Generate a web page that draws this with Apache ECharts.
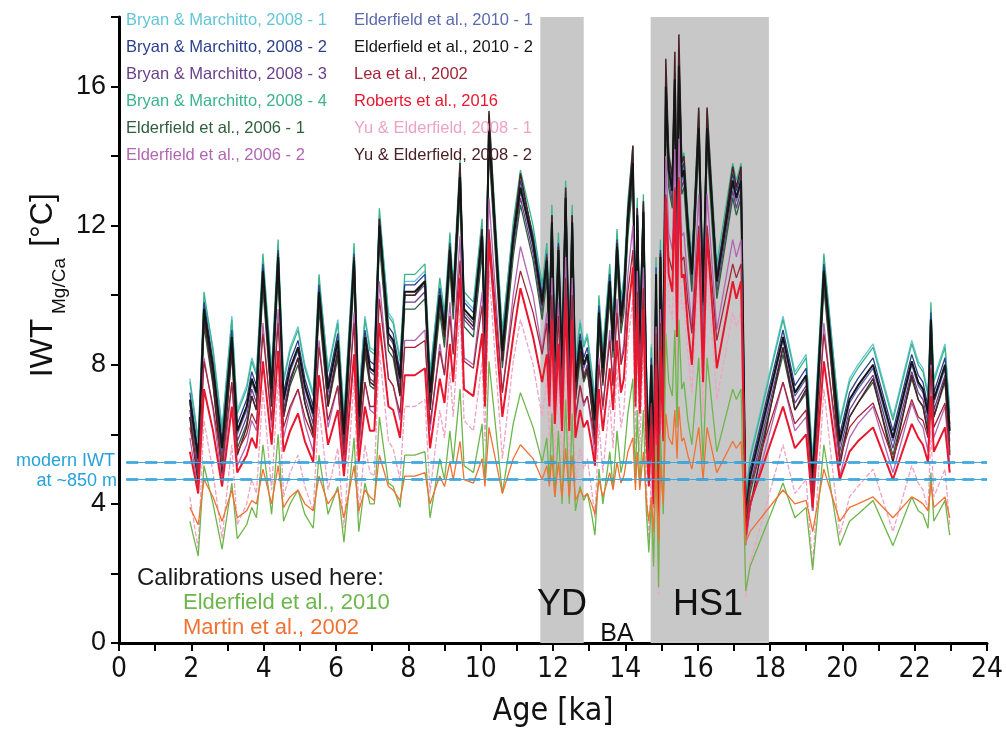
<!DOCTYPE html>
<html>
<head>
<meta charset="utf-8">
<script src="https://cdn.jsdelivr.net/npm/echarts@6/dist/echarts.min.js"></script>
<style>
  html, body { margin: 0; padding: 0; background: #fff; }
  #chart { width: 1006px; height: 730px; }
</style>
</head>
<body>
<div id="chart"></div>
<script>
// age of each sample [ka]
const ages = [1.96,2.19,2.35,2.6,2.85,3.12,3.27,3.53,3.67,3.8,
  3.98,4.22,4.4,4.55,4.73,4.95,5.14,5.37,5.53,5.78,
  6.05,6.22,6.5,6.63,6.8,6.94,7.06,7.2,7.45,7.58,
  7.77,7.9,8.18,8.46,8.6,8.87,9.0,9.15,9.24,9.43,
  9.54,9.8,10.04,10.12,10.23,10.6,10.9,11.1,11.45,11.7,
  11.83,11.9,11.97,12.05,12.15,12.25,12.35,12.45,12.53,12.62,
  12.75,12.85,12.95,13.07,13.16,13.27,13.38,13.57,13.66,13.77,
  13.88,13.96,14.07,14.21,14.28,14.33,14.4,14.5,14.58,14.65,
  14.72,14.78,14.85,14.92,14.97,15.05,15.12,15.2,15.3,15.37,
  15.43,15.48,15.56,15.62,15.73,15.84,16.03,16.15,16.26,16.53,
  16.97,17.07,17.2,17.33,17.45,18.36,18.69,19.0,19.18,19.49,
  19.93,20.2,20.43,20.85,21.4,21.92,22.1,22.23,22.37,22.45,
  22.53,22.84,22.97];

// IWT [°C] for each calibration
const bryan1 = [7.6,5.9,9.9,8.5,6.2,9.4,6.7,7.4,8.2,7.8,
  11.0,7.9,11.4,7.6,8.5,9.1,8.0,7.2,10.4,7.9,
  9.3,6.6,11.3,7.1,9.4,8.5,8.4,12.3,9.5,9.3,
  8.2,10.4,10.4,10.7,7.8,10.3,9.3,11.6,10.1,13.5,
  9.9,9.6,12.0,9.5,14.8,9.0,11.9,13.2,11.8,10.1,
  11.3,9.5,12.4,8.7,11.6,8.5,13.1,8.5,12.4,8.1,
  9.3,8.6,8.9,7.9,7.0,9.8,8.5,10.7,9.3,11.7,
  9.7,10.3,12.5,13.9,9.4,12.6,9.2,12.7,8.1,6.1,
  8.6,5.4,10.9,4.4,11.4,8.0,16.1,13.7,13.1,16.3,
  11.8,16.7,13.5,13.7,12.2,10.9,14.9,10.1,14.9,10.7,
  13.4,13.1,13.4,4.2,5.4,9.4,7.8,8.3,5.3,11.0,
  6.4,7.6,8.0,8.6,6.5,8.7,8.1,7.9,7.2,9.6,
  7.6,8.6,6.7];
const bryan2 = [7.2,5.5,9.8,8.1,5.8,9.0,6.3,7.0,7.8,7.4,
  10.9,7.5,11.3,7.2,8.1,8.7,7.6,6.8,10.3,7.5,
  8.9,6.2,11.2,6.7,9.0,8.1,8.0,12.2,9.1,8.9,
  7.8,10.3,10.3,10.6,7.4,10.2,9.2,11.5,10.0,13.6,
  9.8,9.5,11.9,9.1,14.9,8.6,11.8,13.3,11.7,10.0,
  11.2,9.1,12.3,8.3,11.5,8.1,13.0,8.1,12.3,7.7,
  8.9,8.2,8.5,7.5,6.6,9.7,8.1,10.6,8.9,11.6,
  9.6,10.2,12.4,14.0,9.0,12.5,8.8,12.6,7.7,5.7,
  8.2,5.0,10.8,4.0,11.3,7.6,16.2,13.8,13.2,16.4,
  11.7,16.8,13.6,13.8,12.1,10.8,15.0,10.0,15.0,10.6,
  13.5,13.0,13.5,3.8,5.0,9.0,7.4,7.9,4.9,10.9,
  6.0,7.2,7.6,8.2,6.1,8.3,7.7,7.5,6.8,9.5,
  7.2,8.2,6.3];
const bryan3 = [6.7,5.0,9.3,7.6,5.3,8.5,5.8,6.5,7.3,6.9,
  10.4,7.0,10.8,6.7,7.6,8.2,7.1,6.3,9.8,7.0,
  8.4,5.7,10.7,6.2,8.5,7.6,7.5,11.7,8.6,8.4,
  7.3,9.8,9.8,10.1,6.9,9.7,8.7,11.0,9.5,13.1,
  9.3,9.0,11.4,8.6,14.4,8.1,11.3,12.8,11.2,9.5,
  10.7,8.6,11.8,7.8,11.0,7.6,12.5,7.6,11.8,7.2,
  8.4,7.7,8.0,7.0,6.1,9.2,7.6,10.1,8.4,11.1,
  9.1,9.7,11.9,13.5,8.5,12.0,8.3,12.1,7.2,5.2,
  7.7,4.5,10.3,3.5,10.8,7.1,15.7,13.3,12.7,15.9,
  11.2,16.3,13.1,13.3,11.6,10.3,14.5,9.5,14.5,10.1,
  13.0,12.5,13.0,3.3,4.5,8.5,6.9,7.4,4.4,10.4,
  5.5,6.7,7.1,7.7,5.6,7.8,7.2,7.0,6.3,9.0,
  6.7,7.7,5.8];
const bryan4 = [7.5,5.8,10.1,8.4,6.1,9.3,6.6,7.3,8.1,7.7,
  11.2,7.8,11.6,7.5,8.4,9.0,7.9,7.1,10.6,7.8,
  9.2,6.5,11.5,7.0,9.3,8.4,8.3,12.5,9.4,9.2,
  8.1,10.6,10.6,10.9,7.7,10.5,9.5,11.8,10.3,13.9,
  10.1,9.8,12.2,9.4,15.2,8.9,12.1,13.6,12.0,10.3,
  11.5,9.4,12.6,8.6,11.8,8.4,13.3,8.4,12.6,8.0,
  9.2,8.5,8.8,7.8,6.9,10.0,8.4,10.9,9.2,11.9,
  9.9,10.5,12.7,14.3,9.3,12.8,9.1,12.9,8.0,6.0,
  8.5,5.3,11.1,4.3,11.6,7.9,16.2,14.1,13.5,16.4,
  12.0,16.8,13.9,14.1,12.4,11.1,15.3,10.3,15.3,10.9,
  13.8,13.3,13.8,4.1,5.3,9.3,7.7,8.2,5.2,11.2,
  6.3,7.5,7.9,8.5,6.4,8.6,8.0,7.8,7.1,9.8,
  7.5,8.5,6.6];
const elder06a = [6.5,4.8,9.1,7.4,5.1,8.3,5.6,6.3,7.1,6.7,
  10.2,6.8,10.6,6.5,7.4,8.0,6.9,6.1,9.6,6.8,
  8.2,5.5,10.5,6.0,8.3,7.4,7.3,11.5,8.4,8.2,
  7.1,9.6,9.6,9.9,6.7,9.5,8.5,10.8,9.3,12.9,
  9.1,8.8,11.2,8.4,14.2,7.9,11.1,12.6,11.0,9.3,
  10.5,8.4,11.6,7.6,10.8,7.4,12.3,7.4,11.6,7.0,
  8.2,7.5,7.8,6.8,5.9,9.0,7.4,9.9,8.2,10.9,
  8.9,9.5,11.7,13.3,8.3,11.8,8.1,11.9,7.0,5.0,
  7.5,4.3,10.1,3.3,10.6,6.9,15.5,13.1,12.5,15.7,
  11.0,16.1,12.9,13.1,11.4,10.1,14.3,9.3,14.3,9.9,
  12.8,12.3,12.8,3.1,4.3,8.3,6.7,7.2,4.2,10.2,
  5.3,6.5,6.9,7.5,5.4,7.6,7.0,6.8,6.1,8.8,
  6.5,7.5,5.6];
const elder06b = [5.9,4.4,8.2,6.7,4.6,7.5,5.1,5.7,6.4,6.1,
  9.2,6.2,9.6,5.9,6.7,7.3,6.3,5.5,8.7,6.2,
  7.4,5.0,9.5,5.5,7.5,6.7,6.6,10.4,7.6,7.4,
  6.4,8.7,8.7,9.0,6.1,8.6,7.7,9.8,8.4,11.7,
  8.2,8.0,10.1,7.6,12.8,7.2,10.0,11.4,10.0,8.4,
  9.5,7.6,10.5,6.9,9.8,6.7,11.1,6.7,10.5,6.4,
  7.4,6.8,7.1,6.2,5.4,8.2,6.7,9.0,7.4,9.9,
  8.1,8.6,10.6,12.0,7.5,10.7,7.3,10.8,6.4,4.6,
  6.8,3.9,9.1,3.0,9.6,6.3,14.0,11.8,11.3,14.2,
  10.0,14.5,11.7,11.8,10.3,9.1,12.9,8.4,12.9,9.0,
  11.6,11.1,11.6,2.8,3.9,7.5,6.1,6.5,3.8,9.2,
  4.8,5.9,6.3,6.8,4.9,6.9,6.4,6.2,5.5,8.0,
  5.9,6.8,5.1];
const elder10a = [6.9,5.2,9.5,7.8,5.5,8.7,6.0,6.7,7.5,7.1,
  10.6,7.2,11.0,6.9,7.8,8.4,7.3,6.5,10.0,7.2,
  8.6,5.9,10.9,6.4,8.7,7.8,7.7,11.9,8.8,8.6,
  7.5,10.0,10.0,10.3,7.1,9.9,8.9,11.2,9.7,13.3,
  9.5,9.2,11.6,8.8,14.6,8.3,11.5,13.0,11.4,9.7,
  10.9,8.8,12.0,8.0,11.2,7.8,12.7,7.8,12.0,7.4,
  8.6,7.9,8.2,7.2,6.3,9.4,7.8,10.3,8.6,11.3,
  9.3,9.9,12.1,13.7,8.7,12.2,8.5,12.3,7.4,5.4,
  7.9,4.7,10.5,3.7,11.0,7.3,15.9,13.5,12.9,16.1,
  11.4,16.5,13.3,13.5,11.8,10.5,14.7,9.7,14.7,10.3,
  13.2,12.7,13.2,3.5,4.7,8.7,7.1,7.6,4.6,10.6,
  5.7,6.9,7.3,7.9,5.8,8.0,7.4,7.2,6.5,9.2,
  6.9,7.9,6.0];
const elder10b = [7.0,5.3,9.6,7.9,5.6,8.8,6.1,6.8,7.6,7.2,
  10.7,7.3,11.1,7.0,7.9,8.5,7.4,6.6,10.1,7.3,
  8.7,6.0,11.0,6.5,8.8,7.9,7.8,12.0,8.9,8.7,
  7.6,10.1,10.1,10.4,7.2,10.0,9.0,11.3,9.8,13.4,
  9.6,9.3,11.7,8.9,14.7,8.4,11.6,13.1,11.5,9.8,
  11.0,8.9,12.1,8.1,11.3,7.9,12.8,7.9,12.1,7.5,
  8.7,8.0,8.3,7.3,6.4,9.5,7.9,10.4,8.7,11.4,
  9.4,10.0,12.2,13.8,8.8,12.3,8.6,12.4,7.5,5.5,
  8.0,4.8,10.6,3.8,11.1,7.4,16.0,13.6,13.0,16.2,
  11.5,16.6,13.4,13.6,11.9,10.6,14.8,9.8,14.8,10.4,
  13.3,12.8,13.3,3.6,4.8,8.8,7.2,7.7,4.7,10.7,
  5.8,7.0,7.4,8.0,5.9,8.1,7.5,7.3,6.6,9.3,
  7.0,8.0,6.1];
const lea = [6.2,4.9,8.1,6.8,5.1,7.5,5.5,6.0,6.6,6.3,
  8.9,6.4,9.2,6.2,6.8,7.3,6.5,5.9,8.5,6.4,
  7.4,5.4,9.2,5.8,7.5,6.8,6.8,9.9,7.6,7.4,
  6.6,8.5,8.5,8.7,6.3,8.4,7.7,9.4,8.3,11.0,
  8.1,7.9,9.7,7.6,11.9,7.2,9.6,10.7,9.5,8.3,
  9.2,7.6,10.0,7.0,9.4,6.8,10.5,6.8,10.0,6.5,
  7.4,6.9,7.1,6.4,5.7,8.0,6.8,8.7,7.4,9.5,
  8.0,8.4,10.1,11.3,7.5,10.1,7.4,10.2,6.5,5.0,
  6.9,4.5,8.9,3.8,9.2,6.5,12.9,11.1,10.7,13.1,
  9.5,13.4,11.0,11.1,9.8,8.9,12.0,8.3,12.0,8.7,
  10.9,10.5,10.9,3.6,4.5,7.5,6.3,6.7,4.4,8.9,
  5.3,6.2,6.5,6.9,5.3,7.0,6.5,6.4,5.9,7.9,
  6.2,6.9,5.5];
const roberts = [5.5,4.3,7.3,6.1,4.5,6.8,4.9,5.4,5.9,5.6,
  8.1,5.7,8.4,5.5,6.1,6.6,5.8,5.2,7.7,5.7,
  6.7,4.8,8.3,5.2,6.8,6.1,6.1,9.2,6.8,6.7,
  5.9,7.7,7.7,7.9,5.6,7.6,6.9,8.6,7.5,10.5,
  7.3,7.1,8.9,6.8,11.6,6.5,8.8,10.2,8.8,7.5,
  8.3,6.8,9.3,6.3,8.6,6.1,9.9,6.1,9.3,5.9,
  6.7,6.2,6.4,5.7,5.1,7.3,6.1,7.9,6.7,8.7,
  7.2,7.6,9.4,10.8,6.8,9.5,6.6,9.6,5.9,4.5,
  6.2,4.0,8.0,3.3,8.4,5.8,12.8,10.6,10.1,13.0,
  8.8,13.3,10.5,10.6,9.1,8.0,11.7,7.5,11.7,7.9,
  10.4,9.9,10.4,3.1,4.0,6.8,5.6,6.0,3.9,8.1,
  4.7,5.5,5.8,6.2,4.7,6.3,5.9,5.7,5.2,7.1,
  5.5,6.2,4.9];
const yu1 = [4.2,2.7,6.4,4.9,3.0,5.7,3.4,4.0,4.7,4.3,
  7.3,4.4,7.6,4.2,4.9,5.4,4.5,3.8,6.8,4.4,
  5.6,3.3,7.6,3.7,5.7,4.9,4.8,8.4,5.8,5.6,
  4.7,6.8,6.8,7.0,4.3,6.7,5.9,7.8,6.5,9.6,
  6.4,6.1,8.1,5.8,10.7,5.3,8.1,9.3,8.0,6.5,
  7.6,5.8,8.5,5.1,7.8,4.9,9.1,4.9,8.5,4.6,
  5.6,5.0,5.3,4.4,3.6,6.3,4.9,7.0,5.6,7.9,
  6.2,6.7,8.6,9.9,5.7,8.7,5.5,8.7,4.6,2.9,
  5.0,2.3,7.2,1.4,7.6,4.5,11.8,9.8,9.3,12.0,
  8.0,12.3,9.6,9.8,8.3,7.2,10.8,6.5,10.8,7.0,
  9.5,9.1,9.5,1.3,2.3,5.7,4.3,4.7,2.2,7.3,
  3.1,4.2,4.5,5.0,3.2,5.1,4.6,4.4,3.8,6.1,
  4.2,5.0,3.4];
const yu2 = [6.5,4.5,9.4,7.5,4.8,8.5,5.4,6.2,7.1,6.7,
  10.7,6.8,11.2,6.5,7.5,8.2,6.9,6.0,10.0,6.8,
  8.4,5.3,11.1,5.9,8.5,7.5,7.4,12.2,8.6,8.4,
  7.1,10.0,10.0,10.4,6.7,9.9,8.8,11.4,9.7,13.8,
  9.4,9.1,11.9,8.6,15.3,8.1,11.7,13.5,11.6,9.7,
  11.1,8.6,12.3,7.7,11.4,7.5,13.1,7.5,12.3,7.0,
  8.4,7.6,7.9,6.8,5.8,9.3,7.5,10.4,8.4,11.5,
  9.2,9.9,12.4,14.3,8.5,12.5,8.3,12.7,7.0,4.7,
  7.6,3.9,10.6,3.2,11.2,6.9,16.8,14.0,13.4,17.0,
  11.6,17.5,13.8,14.0,12.1,10.6,15.4,9.7,15.4,10.4,
  13.7,13.1,13.7,3.0,3.9,8.5,6.7,7.3,3.8,10.7,
  5.1,6.5,6.9,7.6,5.2,7.7,7.0,6.8,6.0,9.1,
  6.5,7.6,5.4];
// the two calibrations used in the study
const elder10used = [3.5,2.5,5.1,4.0,2.7,4.6,3.0,3.4,3.9,3.6,
  5.7,3.7,6.0,3.5,4.0,4.4,3.7,3.3,5.4,3.7,
  4.5,2.9,5.9,3.2,4.6,4.0,4.0,6.5,4.6,4.5,
  3.9,5.4,5.4,5.5,3.6,5.3,4.7,6.1,5.2,7.3,
  5.1,4.9,6.3,4.6,8.1,4.3,6.3,7.2,6.2,5.2,
  5.9,4.6,6.6,4.2,6.1,4.0,7.0,4.0,6.6,3.8,
  4.5,4.1,4.3,3.7,3.1,5.0,4.0,5.5,4.5,6.1,
  4.9,5.3,6.6,7.6,4.6,6.7,4.5,6.7,3.8,2.6,
  4.1,2.2,5.7,1.6,6.0,3.7,8.9,7.5,7.1,9.0,
  6.2,9.3,7.3,7.5,6.4,5.7,8.2,5.2,8.2,5.5,
  7.3,7.0,7.3,1.5,2.2,4.6,3.6,3.9,2.1,5.7,
  2.8,3.5,3.7,4.1,2.8,4.2,3.8,3.7,3.3,4.9,
  3.5,4.1,3.1];
const martin = [3.9,3.4,4.7,4.2,3.5,4.4,3.6,3.8,4.1,4.0,
  5.0,4.0,5.1,3.9,4.2,4.4,4.0,3.8,4.8,4.0,
  4.4,3.6,5.1,3.8,4.4,4.2,4.1,5.4,4.5,4.4,
  4.1,4.8,4.8,4.9,4.0,4.8,4.5,5.2,4.7,5.8,
  4.7,4.6,5.3,4.5,6.2,4.3,5.3,5.7,5.3,4.7,
  5.1,4.5,5.4,4.2,5.2,4.2,5.6,4.2,5.4,4.1,
  4.4,4.2,4.3,4.0,3.7,4.7,4.2,4.9,4.4,5.2,
  4.6,4.8,5.5,5.9,4.4,5.5,4.4,5.5,4.1,3.5,
  4.2,3.2,5.0,2.9,5.1,4.0,6.6,5.9,5.7,6.7,
  5.3,6.8,5.8,5.9,5.4,5.0,6.2,4.7,6.2,4.9,
  5.8,5.6,5.8,2.9,3.2,4.4,4.0,4.1,3.2,5.0,
  3.5,3.9,4.0,4.2,3.6,4.2,4.1,4.0,3.8,4.6,
  3.9,4.2,3.6];

// modern intermediate water temperature at ~850 m
const modernIWT = [5.2, 4.7];
// YD and HS1 intervals [ka]
const ydBand = [11.65, 12.85];
const hs1Band = [14.7, 17.97];

const xTicks = [0, 24];
const yTicks = [0, 18];

const narrow = "'Liberation Sans Narrow', 'DejaVu Sans Condensed', 'Liberation Sans', sans-serif";

const myChart = echarts.init(document.getElementById("chart"));

const pairs = (ys) => ages.map((a, i) => [a, ys[i]]);

// name, values, colour, width, dashed
const calib = [
  ["Bryan & Marchitto, 2008 - 1", bryan1, "#63c5d6", 1.3],
  ["Bryan & Marchitto, 2008 - 4", bryan4, "#3bb48c", 1.3],
  ["Bryan & Marchitto, 2008 - 2", bryan2, "#2b3f8f", 1.3],
  ["Elderfield et al., 2010 - 1", elder10a, "#5b69ad", 1.3],
  ["Bryan & Marchitto, 2008 - 3", bryan3, "#6b3f8c", 1.3],
  ["Elderfield et al., 2006 - 1", elder06a, "#2e5e3c", 1.3],
  ["Yu & Elderfield, 2008 - 2", yu2, "#4a2226", 1.5],
  ["Elderfield et al., 2010 - 2", elder10b, "#151515", 2],
  ["Elderfield et al., 2006 - 2", elder06b, "#b266b2", 1.3],
  ["Lea et al., 2002", lea, "#a2263a", 1.3],
  ["Yu & Elderfield, 2008 - 1", yu1, "#eea3c3", 1.3, true],
  ["Roberts et al., 2016", roberts, "#e8172e", 2],
  ["Elderfield et al., 2010", elder10used, "#6db64b", 1.3],
  ["Martin et al., 2002", martin, "#f07232", 1.3],
];

const series = calib.map(([name, ys, color, width, dashed]) => ({
  name: name,
  type: "line",
  data: pairs(ys),
  symbol: "none",
  lineStyle: { color: color, width: width, type: dashed ? [5, 2] : "solid" },
  itemStyle: { color: color },
  z: 3,
}));

// grey intervals behind everything
series[0].markArea = {
  silent: true,
  itemStyle: { color: "#c8c8c8" },
  data: [
    [{ xAxis: ydBand[0] }, { xAxis: ydBand[1] }],
    [{ xAxis: hs1Band[0] }, { xAxis: hs1Band[1] }],
  ],
};

// modern IWT lines
series[series.length - 1].markLine = {
  silent: true,
  symbol: "none",
  label: { show: false },
  lineStyle: { color: "#1d9ad8", width: 2.5, type: [12, 7] },
  data: [
    [{ coord: [0.2, modernIWT[0]] }, { coord: [24, modernIWT[0]] }],
    [{ coord: [0.2, modernIWT[1]] }, { coord: [24, modernIWT[1]] }],
  ],
};
series.push({
  name: "modern thin",
  type: "line",
  data: [],
  markLine: {
    silent: true,
    symbol: "none",
    label: { show: false },
    lineStyle: { color: "#45a8dc", width: 1, type: "solid" },
    data: [
      [{ coord: [0.2, modernIWT[0]] }, { coord: [24, modernIWT[0]] }],
      [{ coord: [0.2, modernIWT[1]] }, { coord: [24, modernIWT[1]] }],
    ],
  },
});

const legendText = (name, color) => ({ name: name, textStyle: { color: color } });
const legendStyle = {
  orient: "vertical",
  icon: "none",
  itemWidth: 0,
  itemHeight: 0,
  itemGap: 7,
  padding: 0,
  selectedMode: false,
  textStyle: { fontFamily: "Liberation Sans", fontSize: 16.5, lineHeight: 20 },
};

myChart.setOption({
  animation: false,
  grid: { left: 119, right: 19, top: 17, bottom: 87 },
  legend: [
    Object.assign({}, legendStyle, {
      left: 121,
      top: 10,
      data: [
        legendText("Bryan & Marchitto, 2008 - 1", "#63c5d6"),
        legendText("Bryan & Marchitto, 2008 - 2", "#2b3f8f"),
        legendText("Bryan & Marchitto, 2008 - 3", "#6b3f8c"),
        legendText("Bryan & Marchitto, 2008 - 4", "#3bb48c"),
        legendText("Elderfield et al., 2006 - 1", "#2e5e3c"),
        legendText("Elderfield et al., 2006 - 2", "#b266b2"),
      ],
    }),
    Object.assign({}, legendStyle, {
      left: 349,
      top: 10,
      data: [
        legendText("Elderfield et al., 2010 - 1", "#5b69ad"),
        legendText("Elderfield et al., 2010 - 2", "#151515"),
        legendText("Lea et al., 2002", "#a2263a"),
        legendText("Roberts et al., 2016", "#e8172e"),
        legendText("Yu & Elderfield, 2008 - 1", "#eea3c3"),
        legendText("Yu & Elderfield, 2008 - 2", "#4a2226"),
      ],
    }),
  ],
  xAxis: {
    type: "value",
    min: xTicks[0],
    max: xTicks[1],
    interval: 1,
    splitLine: { show: false },
    axisLine: { lineStyle: { color: "#000", width: 3 } },
    axisTick: { length: 8, lineStyle: { color: "#000", width: 2 } },
    axisLabel: {
      margin: 13,
      color: "#111",
      fontSize: 28,
      fontFamily: narrow,
      formatter: (v) => (v % 2 === 0 ? String(v) : ""),
    },
  },
  yAxis: {
    type: "value",
    min: yTicks[0],
    max: yTicks[1],
    interval: 2,
    splitLine: { show: false },
    axisLine: { lineStyle: { color: "#000", width: 3 } },
    axisTick: { length: 8, lineStyle: { color: "#000", width: 2 } },
    axisLabel: {
      margin: 13,
      color: "#111",
      fontSize: 27,
      fontFamily: "Liberation Sans",
      formatter: (v) => (v % 4 === 0 ? String(v) : ""),
    },
  },
  graphic: [
    // y axis title
    { type: "text", x: 43, y: 348, rotation: Math.PI / 2,
      style: { text: "IWT", font: "32px 'Liberation Sans'", fill: "#111", align: "center", verticalAlign: "middle" } },
    { type: "text", x: 60, y: 286, rotation: Math.PI / 2,
      style: { text: "Mg/Ca", font: "19px 'Liberation Sans'", fill: "#111", align: "center", verticalAlign: "middle" } },
    { type: "text", x: 43, y: 220, rotation: Math.PI / 2,
      style: { text: "[°C]", font: "32px 'Liberation Sans'", fill: "#111", align: "center", verticalAlign: "middle" } },
    // x axis title
    { type: "text", x: 553, y: 712,
      style: { text: "Age [ka]", font: "32px " + narrow, fill: "#111", align: "center", verticalAlign: "middle" } },
    // modern IWT note
    { type: "text", x: 115, y: 461,
      style: { text: "modern IWT", font: "18px 'Liberation Sans'", fill: "#27a2da", align: "right", verticalAlign: "middle" } },
    { type: "text", x: 117, y: 481,
      style: { text: "at ~850 m", font: "18px 'Liberation Sans'", fill: "#27a2da", align: "right", verticalAlign: "middle" } },
    // intervals
    { type: "text", x: 562, y: 605, z: 10,
      style: { text: "YD", font: "36px 'Liberation Sans'", fill: "#111", align: "center", verticalAlign: "middle" } },
    { type: "text", x: 617, y: 634, z: 10,
      style: { text: "BA", font: "25px 'Liberation Sans'", fill: "#111", align: "center", verticalAlign: "middle" } },
    { type: "text", x: 708, y: 605, z: 10,
      style: { text: "HS1", font: "36px 'Liberation Sans'", fill: "#111", align: "center", verticalAlign: "middle" } },
    // calibrations note
    { type: "text", x: 137, y: 578,
      style: { text: "Calibrations used here:", font: "24px 'Liberation Sans'", fill: "#1a1a1a", align: "left", verticalAlign: "middle" } },
    { type: "text", x: 183, y: 603,
      style: { text: "Elderfield et al., 2010", font: "22px 'Liberation Sans'", fill: "#6db64b", align: "left", verticalAlign: "middle" } },
    { type: "text", x: 183, y: 628,
      style: { text: "Martin et al., 2002", font: "22px 'Liberation Sans'", fill: "#f07232", align: "left", verticalAlign: "middle" } },
  ],
  series: series,
});
</script>
</body>
</html>
